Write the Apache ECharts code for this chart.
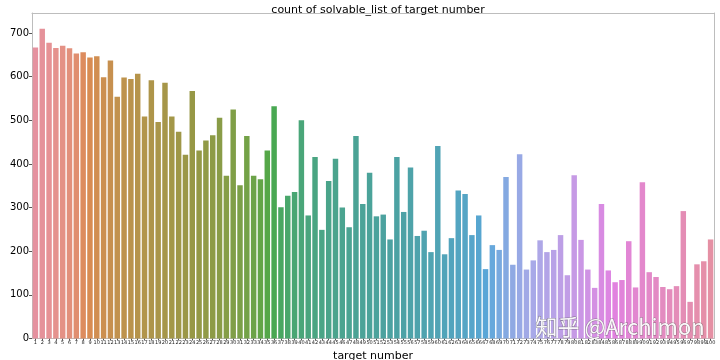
<!DOCTYPE html>
<html><head><meta charset="utf-8">
<script src="https://cdn.jsdelivr.net/npm/echarts@6/dist/echarts.min.js"></script>
<style>html,body{margin:0;padding:0;background:#fff}#c{width:720px;height:360px}</style>
</head><body><div id="c"></div>
<script>
var categories = [];
for (var i = 1; i <= 100; i++) categories.push(String(i));
var counts1 = [667,710,678,666,671,665,653,656,644,647,599,637,554,598,595,607,509,592,496,586,509,474,421,567,431,454,466,506,373,525,351,464];
var counts2 = [373,365,431,532,301,327,336,500,282,416,249,361,412,300,255,464,308,380,280,284,227,416,290,392,235,247,198,441,193,230,339,331,237,282,159];
var counts3 = [214,203,370,169,422,158,179,225,198,203,237,145,374,226,158,116,308,156,129,134,223,117,358,152,141,118,113,120,292,84,170,177,227];
var counts = counts1.concat(counts2, counts3);
var yTicks = [0,100,200,300,400,500,600,700];

// seaborn husl palette + countplot desaturation (styling only)
var M = [[3.2406,-1.5372,-0.4986],[-0.9689,1.8758,0.0415],[0.0557,-0.2040,1.0570]];
var refU=0.19784, refV=0.46834, kappa=24389/27, eps=216/24389;
function maxChroma(L,H){
  var hr=H/360*Math.PI*2, s=Math.sin(hr), c=Math.cos(hr);
  var sub1=Math.pow(L+16,3)/1560896, sub2=sub1>eps?sub1:L/kappa, res=Infinity;
  M.forEach(function(r){
    var top=(0.99915*r[0]+1.05122*r[1]+1.14460*r[2])*sub2;
    var rb=0.86330*r[2]-0.17266*r[1], lb=0.12949*r[2]-0.38848*r[0];
    var bot=(rb*s+lb*c)*sub2;
    [0,1].forEach(function(t){var C=L*(top-1.05122*t)/(bot+0.17266*s*t); if(C>0&&C<res)res=C;});
  });
  return res;
}
function huslToRgb(H,S,L){
  var C=maxChroma(L,H)/100*S, hr=H/360*Math.PI*2;
  var U=Math.cos(hr)*C, V=Math.sin(hr)*C;
  var t=(L+16)/116, Y=Math.pow(t,3)>eps?Math.pow(t,3):(116*t-16)/kappa;
  var vu=U/(13*L)+refU, vv=V/(13*L)+refV;
  var X=0-(9*Y*vu)/((vu-4)*vv-vu*vv);
  var Z=(9*Y-15*vv*Y-vv*X)/(3*vv);
  return M.map(function(r){var v=r[0]*X+r[1]*Y+r[2]*Z;
    v=v<=0.0031308?12.92*v:1.055*Math.pow(v,1/2.4)-0.055; return Math.min(1,Math.max(0,v));});
}
function desat(rgb,p){
  var r=rgb[0],g=rgb[1],b=rgb[2],mx=Math.max(r,g,b),mn=Math.min(r,g,b),l=(mx+mn)/2,h=0,s=0;
  if(mx!==mn){var d=mx-mn; s=l<=0.5?d/(mx+mn):d/(2-mx-mn);
    var rc=(mx-r)/d,gc=(mx-g)/d,bc=(mx-b)/d;
    h=r===mx?bc-gc:(g===mx?2+rc-bc:4+gc-rc); h=((h/6)%1+1)%1;}
  s*=p;
  function v(m1,m2,hue){hue=((hue%1)+1)%1; if(hue<1/6)return m1+(m2-m1)*hue*6; if(hue<0.5)return m2; if(hue<2/3)return m1+(m2-m1)*(2/3-hue)*6; return m1;}
  if(s===0)return [l,l,l];
  var m2=l<=0.5?l*(1+s):l+s-l*s, m1=2*l-m2;
  return [v(m1,m2,h+1/3),v(m1,m2,h),v(m1,m2,h-1/3)];
}
var colors=[];
for(var k=0;k<100;k++){
  var h=((k/100)+0.01)%1*359;
  var rgb=desat(huslToRgb(h,0.9*99,0.68*99),0.7);
  colors.push('rgb('+rgb.map(function(x){return Math.round(x*255);}).join(',')+')');
}

var chart = echarts.init(document.getElementById('c'));
var font = 'DejaVu Sans';
var spine = '#bdbdbd';
chart.setOption({
  backgroundColor:'#fff',
  animation:false,
  title:{text:'count of solvable_list of target number',left:373,top:0,textAlign:'center',
    textStyle:{fontFamily:font,fontSize:11,fontWeight:'normal',color:'#000'}},
  grid:{left:32,right:6,top:13,bottom:21.5,outerBoundsMode:'none',containLabel:false,show:false},
  xAxis:[{type:'category',data:categories,name:'target number',nameLocation:'middle',nameGap:10,
    nameTextStyle:{fontFamily:font,fontSize:11,color:'#000'},
    axisLine:{show:true,onZero:false,lineStyle:{color:spine}},axisTick:{show:true,alignWithLabel:true,length:2,lineStyle:{color:'#555'}},
    axisLabel:{interval:0,fontSize:5,fontFamily:font,color:'#222',margin:2}},
    {type:'category',position:'top',data:categories,axisLine:{show:true,onZero:false,lineStyle:{color:spine}},
    axisTick:{show:false},axisLabel:{show:false}}],
  yAxis:[{type:'value',min:0,max:746,interval:100,name:'count',nameLocation:'middle',nameGap:23,
    nameTextStyle:{fontFamily:font,fontSize:11,color:'#000'},
    splitLine:{show:false},axisLine:{show:true,onZero:false,lineStyle:{color:spine}},axisTick:{show:true,length:3,lineStyle:{color:'#555'}},
    axisLabel:{fontFamily:font,fontSize:10,color:'#000',margin:3,showMaxLabel:false,
      formatter:function(v){return yTicks.indexOf(v)>=0?String(v):'';}}},
    {type:'value',position:'right',min:0,max:746,splitLine:{show:false},axisLine:{show:true,onZero:false,lineStyle:{color:spine}},
    axisTick:{show:false},axisLabel:{show:false}}],
  series:[{type:'bar',barCategoryGap:'20%',xAxisIndex:0,yAxisIndex:0,
    data:counts.map(function(v,i){return {value:v,itemStyle:{color:colors[i]}};})}],
  graphic:[{type:'text',left:535,top:315,z:100,style:{text:'知乎 @Archimon',fontFamily:'Noto Sans CJK SC',fontSize:22,
    fill:'rgba(255,255,255,0.92)',stroke:'rgba(90,90,90,0.6)',lineWidth:1}}]
});
</script></body></html>
